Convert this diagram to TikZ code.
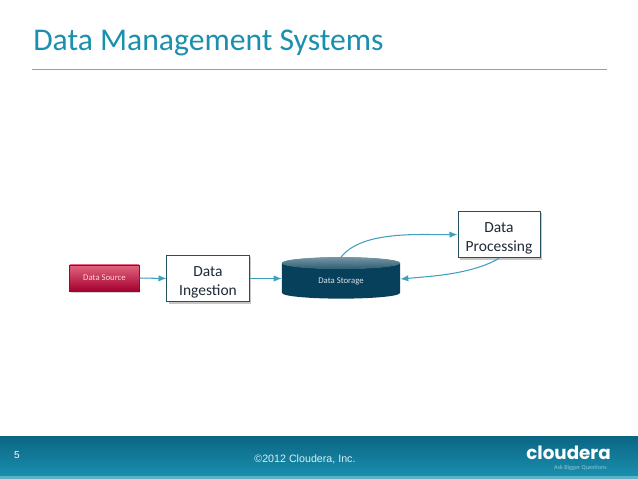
\documentclass[tikz,border=0pt]{standalone}
\usepackage{fontspec}
\setmainfont{Carlito}
\newfontfamily\footfont{Liberation Sans}
\newfontfamily\logofont{Poppins}
\usepackage{tikz}
\usetikzlibrary{positioning,arrows.meta,calc,shapes.geometric,shadows}
\definecolor{accent1}{HTML}{1A8FAE}
\definecolor{accent2}{HTML}{07405A}
\definecolor{accent3}{HTML}{0A6583}
\definecolor{accent4}{HTML}{25505F}
\definecolor{accent5}{HTML}{E2647F}
\definecolor{accent6}{HTML}{A5002F}
\definecolor{flow}{HTML}{3FA0BE}
\definecolor{ink}{HTML}{1F2937}
\newcommand{\boxstrut}{\rule{0pt}{0.45cm}}
\tikzset{
  boxnode/.style={draw=accent4, fill=white, line width=0.7pt, text=ink, align=center,
    minimum width=2.05cm, minimum height=1.17cm, inner sep=0pt,
    font=\fontsize{11}{13.5}\selectfont,
    drop shadow={shadow xshift=0.04cm, shadow yshift=-0.05cm, opacity=0.45}},
  flowline/.style={draw=flow, line width=0.75pt, -{Latex[length=0.2cm,width=0.16cm]}}
}
\begin{document}
\begin{tikzpicture}[x=0.025cm,y=-0.025cm]
\useasboundingbox (0,0) rectangle (638,479);
% footer band
\fill[top color=accent3, bottom color=accent1] (0,436) rectangle (638,476);
\fill[accent1!70!white] (0,476) rectangle (638,479);
% heading
\node[anchor=west, inner sep=0pt, text=accent1, font=\fontsize{22.5}{24}\selectfont] (heading) at (33,43) {Data Management Systems};
\coordinate (ruleleft) at (32,69);
\coordinate (ruleright) at (607,69);
\draw[black!38, line width=0.5pt] (ruleleft) -- (ruleright);
% boxes
\node[draw=accent6, line width=0.6pt, top color=accent5, bottom color=accent6, text=white!85!red, minimum width=1.73cm, minimum height=0.65cm, inner sep=0pt, font=\fontsize{6.2}{7}\selectfont, drop shadow={shadow xshift=0.03cm, shadow yshift=-0.04cm, opacity=0.35}] (source) at (104.5,278) {Data Source};
\node[boxnode] (ingestion) at (208,278.5) {\boxstrut Data\\Ingestion};
\node[cylinder, shape border rotate=90, aspect=0.25, minimum width=2.95cm, minimum height=1.03cm, inner sep=0pt, cylinder uses custom fill, cylinder body fill=accent2, cylinder end fill=accent2, text=white!85!accent2, font=\fontsize{6.2}{7}\selectfont] (storage) at (341,281) {Data Storage};
\shade[top color=accent2!55!white, bottom color=accent2!85!white] ($(storage.before top)!0.5!(storage.after top)$) ellipse (59 and 6);
\node[boxnode] (processing) at (499,234.5) {\boxstrut Data\\Processing};
% connectors
\draw[flowline] (source.east) -- (ingestion.west);
\draw[flowline] (ingestion.east) -- (ingestion.east -| storage.west);
\draw[flowline] (storage.north) to[out=52,in=181,looseness=0.75] (processing.west);
\draw[flowline] (processing.south) to[out=-150,in=5,looseness=0.8] ($(storage.east)+(0,-2)$);
% footer text
\node[inner sep=0pt, text=white, font=\footfont\fontsize{7.2}{8}\selectfont] (pagenum) at (17,455) {5};
\node[inner sep=0pt, text=white!85!accent1, font=\footfont\fontsize{7.6}{9}\selectfont] (copyright) at (305,459) {©2012 Cloudera, Inc.};
\node[inner sep=0pt, text=white, font=\logofont\bfseries\fontsize{13}{15}\selectfont] (logo) at (568.5,453) {cloudera};
\node[inner sep=0pt, text=white!50!accent1, font=\fontsize{4.4}{5}\selectfont] (tagline) at (580.5,468) {Ask Bigger Questions};
\end{tikzpicture}
\end{document}
